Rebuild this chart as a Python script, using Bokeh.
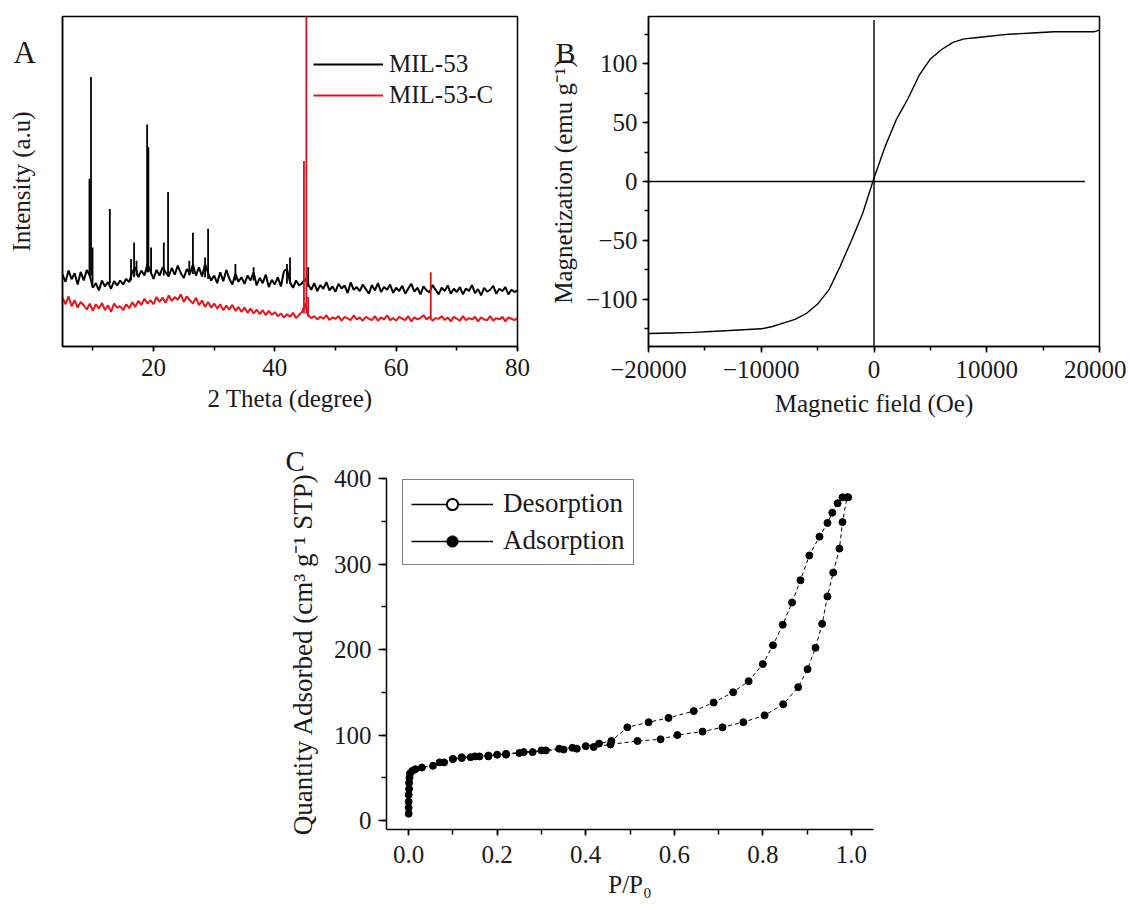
import numpy as np
from bokeh.plotting import figure
from bokeh.models import (Range1d, SingleIntervalTicker, FixedTicker, Legend, LegendItem,
                          Label, Spacer, PrintfTickFormatter, ColumnDataSource)
from bokeh.layouts import row, column
from bokeh.embed import file_html
from bokeh.resources import INLINE

FONT = "Liberation Serif"
TXT = "#1a1a1a"

# ---------------- Panel A : XRD ----------------
xrd_start = 5.0
xrd_step = 0.5
mil53_baseline = [
    218, 196, 230, 204, 222, 188, 226, 200, 232, 215,
    178, 192, 170, 200, 182, 195, 175, 198, 185, 200,
    188, 205, 195, 225, 240, 210, 230, 215, 250, 228,
    205, 232, 215, 240, 225, 212, 238, 218, 245, 222,
    208, 235, 220, 248, 215, 240, 212, 250, 222, 200,
    215, 192, 225, 198, 232, 205, 188, 220, 196, 210,
    190, 215, 200, 225, 185, 208, 192, 218, 180, 202,
    188, 210, 182, 228, 235, 195, 178, 200, 185, 192,
    205, 188, 172, 192, 168, 186, 175, 195, 170, 182,
    166, 190, 176, 185, 162, 194, 172, 180, 168, 188,
    174, 160, 186, 170, 192, 165, 180, 172, 188, 162,
    178, 168, 184, 160, 176, 190, 166, 178, 158, 182,
    170, 164, 186, 172, 158, 178, 168, 185, 160, 175,
    165, 180, 158, 176, 168, 186, 162, 174, 155, 178,
    166, 172, 184, 160, 175, 168, 180, 158, 172, 165,
    170]
mil53c_baseline = [
    148, 128, 152, 122, 140, 118, 135, 125, 112, 130,
    108, 128, 115, 132, 110, 125, 105, 130, 118, 122,
    110, 128, 116, 134, 120, 138, 126, 145, 130, 140,
    128, 150, 135, 148, 132, 155, 138, 150, 142, 158,
    135, 152, 140, 130, 148, 125, 140, 120, 135, 118,
    130, 115, 128, 110, 124, 112, 126, 108, 120, 105,
    118, 102, 115, 100, 112, 98, 110, 95, 108, 96,
    104, 92, 100, 88, 98, 90, 102, 86, 96, 105,
    130, 95, 86, 92, 82, 90, 84, 95, 80, 88,
    84, 92, 78, 90, 85, 80, 94, 82, 88, 78,
    90, 84, 80, 92, 78, 88, 82, 94, 80, 86,
    78, 90, 84, 80, 92, 76, 88, 82, 86, 95,
    82, 90, 78, 86, 84, 92, 80, 88, 76, 90,
    84, 78, 92, 80, 86, 82, 90, 76, 88, 82,
    80, 92, 78, 86, 82, 90, 76, 88, 84, 80,
    86]
mil53_peak_pos = [9.45, 9.7, 9.95, 12.8, 16.3, 16.8, 17.2, 18.95, 19.15, 19.6,
                  21.7, 22.4, 25.9, 26.5, 28.5, 29.0, 33.5, 36.5, 42.0, 42.5, 45.5]
mil53_peak_base = [215, 215, 190, 190, 200, 210, 215, 225, 225, 220,
                   215, 220, 215, 220, 210, 205, 200, 200, 190, 190, 180]
mil53_peak_top = [508, 817, 300, 417, 265, 315, 260, 673, 604, 300,
                  315, 468, 260, 345, 270, 357, 250, 240, 250, 270, 240]
mil53c_peak_pos = [44.8, 45.2, 45.5, 65.7]
mil53c_peak_base = [100, 100, 90, 88]
mil53c_peak_top = [562, 1100, 150, 225]

two_theta = xrd_start + xrd_step * np.arange(len(mil53_baseline))

# ---------------- Panel B : VSM ----------------
field_oe = [-20000, -18000, -16000, -14000, -12000, -10000, -9000, -8000, -7000, -6000,
            -5000, -4000, -3000, -2000, -1000, 0, 1000, 2000, 3000, 4000, 5000, 6000,
            7000, 8000, 9000, 10000, 12000, 14000, 16000, 18000, 19500, 20000]
magnetization = [-129, -128.5, -128, -127, -126, -125, -123, -120, -117, -112,
                 -104, -92, -72, -50, -27, 3, 30, 53, 70, 90, 104, 112,
                 118, 121, 122, 123, 125, 126, 127, 127, 127, 128.5]
zero_field_span = [-140, 137]      # vertical zero line, magnetization extent
zero_mag_span = [-20000, 18700]    # horizontal zero line, field extent

# ---------------- Panel C : N2 isotherm ----------------
ads_p = [0.0, 0.0, 0.0, 0.0, 0.001, 0.001, 0.002, 0.003, 0.008, 0.015, 0.03, 0.055,
         0.08, 0.1, 0.12, 0.14, 0.16, 0.18, 0.2, 0.22, 0.25, 0.28, 0.31, 0.35, 0.38,
         0.418, 0.456, 0.517, 0.569, 0.607, 0.664, 0.709, 0.756, 0.804, 0.846, 0.88,
         0.901, 0.919, 0.934, 0.946, 0.959, 0.973, 0.98, 0.99]
ads_q = [8, 15, 22, 30, 37, 44, 50, 55, 58, 60, 62, 64,
         68, 72, 73, 74, 75, 75, 77, 77, 79, 80, 82, 83, 84,
         86, 89, 93, 95, 100, 104, 109, 115, 123, 136, 156,
         177, 202, 230, 262, 290, 318, 349, 378]
des_p = [0.993, 0.98, 0.969, 0.957, 0.946, 0.928, 0.905, 0.885, 0.866, 0.845, 0.823,
         0.8, 0.768, 0.733, 0.689, 0.644, 0.587, 0.542, 0.494, 0.458, 0.43, 0.40,
         0.37, 0.34, 0.30, 0.26, 0.22, 0.18, 0.15, 0.12, 0.10, 0.07]
des_q = [378, 378, 371, 360, 348, 332, 310, 281, 255, 229, 205,
         183, 163, 150, 138, 128, 120, 115, 109, 93, 90, 87,
         85, 84, 82, 80, 78, 76, 75, 74, 72, 68]


def style_axis(ax, tick_out=6, minor_out=3, standoff=5, label_standoff=5, label_size="25px"):
    ax.axis_line_width = 1.5
    ax.axis_line_color = "black"
    ax.major_tick_line_width = 1.5
    ax.minor_tick_line_width = 1.5
    ax.major_tick_in = 0
    ax.minor_tick_in = 0
    ax.major_tick_out = tick_out
    ax.minor_tick_out = minor_out
    ax.major_label_text_font = FONT
    ax.major_label_text_font_size = "25px"
    ax.major_label_text_color = TXT
    ax.major_label_standoff = standoff
    ax.axis_label_text_font = FONT
    ax.axis_label_text_font_size = label_size
    ax.axis_label_text_font_style = "normal"
    ax.axis_label_text_color = TXT
    ax.axis_label_standoff = label_standoff


def base_fig(w, h, xr, yr, bl, br, bt, bb, outline=True):
    p = figure(width=w, height=h, x_range=Range1d(*xr), y_range=Range1d(*yr),
               min_border_left=bl, min_border_right=br, min_border_top=bt,
               min_border_bottom=bb, toolbar_location=None, output_backend="svg")
    p.grid.visible = False
    p.background_fill_color = "white"
    p.border_fill_color = "white"
    if outline:
        p.outline_line_color = "black"
        p.outline_line_width = 1.5
        p.outline_line_alpha = 1.0
    else:
        p.outline_line_color = None
    return p


def panel_letter(p, x, y, letter, size, side):
    # placed in a spare side panel (canvas units) so it is not clipped to the data frame
    p.add_layout(Label(x=x, y=y, x_units="canvas", y_units="canvas", text=letter,
                       text_font=FONT, text_font_size=size, text_color=TXT,
                       text_baseline="alphabetic", text_align="left"), side)


# ---- Figure A  (page x 0..542)
pA = base_fig(542, 430, (5, 80), (0, 1000), 62, 25, 14, 84)
rA1 = pA.line(two_theta, mil53_baseline, line_color="black", line_width=2)
pA.segment(x0=mil53_peak_pos, y0=mil53_peak_base, x1=mil53_peak_pos, y1=mil53_peak_top,
           line_color="black", line_width=1.8)
rA2 = pA.line(two_theta, mil53c_baseline, line_color="#e8141b", line_width=2)
pA.segment(x0=mil53c_peak_pos, y0=mil53c_peak_base, x1=mil53c_peak_pos, y1=mil53c_peak_top,
           line_color="#d0141b", line_width=1.8)
pA.xaxis.ticker = SingleIntervalTicker(interval=20, num_minor_ticks=2)
pA.yaxis.ticker = FixedTicker(ticks=[])
pA.xaxis.axis_label = "2 Theta (degree)"
pA.yaxis.axis_label = "Intensity (a.u)"
style_axis(pA.xaxis[0], tick_out=5, minor_out=4, standoff=7, label_standoff=6)
style_axis(pA.yaxis[0], label_standoff=28)
legA = Legend(items=[LegendItem(label="MIL-53", renderers=[rA1]),
                     LegendItem(label="MIL-53-C", renderers=[rA2])],
              location=(251, 236), orientation="vertical")
legA.border_line_color = None
legA.background_fill_alpha = 0
legA.padding = 0
legA.margin = 0
legA.glyph_width = 70
legA.glyph_height = 30
legA.label_height = 30
legA.spacing = 1
legA.label_standoff = 6
legA.label_text_font = FONT
legA.label_text_font_size = "25px"
legA.label_text_color = TXT
pA.add_layout(legA, "center")
panel_letter(pA, 13, 52, "A", "31px", "right")

# ---- Figure B  (page x 542..1126)
pB = base_fig(584, 430, (-20000, 20000), (-140, 140), 106, 27, 16, 84)
pB.line(field_oe, magnetization, line_color="black", line_width=1.4)
pB.segment(x0=[0], y0=[zero_field_span[0]], x1=[0], y1=[zero_field_span[1]],
           line_color="black", line_width=1.4)
pB.segment(x0=[zero_mag_span[0]], y0=[0], x1=[zero_mag_span[1]], y1=[0],
           line_color="black", line_width=1.4)
pB.xaxis.ticker = SingleIntervalTicker(interval=10000, num_minor_ticks=2)
pB.yaxis.ticker = SingleIntervalTicker(interval=50, num_minor_ticks=2)
pB.xaxis.axis_label = "Magnetic field (Oe)"
pB.yaxis.axis_label = "Magnetization (emu g\u207b\u00b9)"
style_axis(pB.xaxis[0], tick_out=6, minor_out=4, standoff=8, label_standoff=9)
style_axis(pB.yaxis[0], tick_out=6, minor_out=4, standoff=5, label_standoff=6)
panel_letter(pB, 13, 52, "B", "30px", "right")

# ---- Figure C  (page x 280..890, y 430..900)
pC = base_fig(610, 470, (-0.05, 1.05), (-10.5, 400), 106, 17, 48, 69, outline=False)
pC.line(des_p, des_q, line_color="black", line_width=1, line_dash="4 3")
pC.scatter(des_p, des_q, size=7, marker="circle", fill_color="black", line_color="black")
pC.line(ads_p, ads_q, line_color="black", line_width=1, line_dash="4 3")
pC.scatter(ads_p, ads_q, size=7, marker="circle", fill_color="black", line_color="black")
legend_stub = ColumnDataSource(data=dict(x=[np.nan], y=[np.nan]))
lg_des_l = pC.line("x", "y", source=legend_stub, line_color="black", line_width=1.3)
lg_des_m = pC.scatter("x", "y", source=legend_stub, size=7, marker="circle",
                      fill_color="white", line_color="black", line_width=2)
lg_ads_l = pC.line("x", "y", source=legend_stub, line_color="black", line_width=1.3)
lg_ads_m = pC.scatter("x", "y", source=legend_stub, size=7, marker="circle",
                      fill_color="black", line_color="black")
pC.xaxis.ticker = SingleIntervalTicker(interval=0.2, num_minor_ticks=2)
pC.yaxis.ticker = SingleIntervalTicker(interval=100, num_minor_ticks=2)
pC.xaxis.formatter = PrintfTickFormatter(format="%.1f")
pC.xaxis.axis_label = "P/P\u2080"
pC.yaxis.axis_label = "Quantity Adsorbed (cm\u00b3 g\u207b\u00b9 STP)"
style_axis(pC.xaxis[0], tick_out=6, minor_out=5, standoff=10, label_standoff=5)
style_axis(pC.yaxis[0], tick_out=8, minor_out=5, standoff=7, label_standoff=13,
           label_size="27px")
legC = Legend(items=[LegendItem(label="Desorption", renderers=[lg_des_l, lg_des_m]),
                     LegendItem(label="Adsorption", renderers=[lg_ads_l, lg_ads_m])],
              location=(16, 264), orientation="vertical")
legC.border_line_color = "black"
legC.border_line_width = 1.5
legC.background_fill_color = "white"
legC.padding = 8
legC.margin = 0
legC.glyph_width = 82
legC.glyph_height = 28
legC.label_height = 28
legC.spacing = 6
legC.label_standoff = 10
legC.label_text_font = FONT
legC.label_text_font_size = "27px"
legC.label_text_color = TXT
pC.add_layout(legC, "center")
panel_letter(pC, 5, 30, "C", "29px", "above")

layout = column(row(pA, pB), row(Spacer(width=280, height=470), pC))
open("out.html", "w").write(file_html(layout, INLINE))
